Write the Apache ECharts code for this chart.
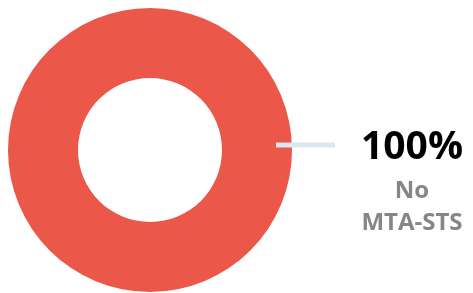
<!DOCTYPE html>
<html>
<head>
<meta charset="utf-8">
<script src="https://cdn.jsdelivr.net/npm/echarts@6/dist/echarts.min.js"></script>
<style>
  html, body { margin: 0; padding: 0; background: #fff; }
  #chart { width: 473px; height: 293px; }
</style>
</head>
<body>
<div id="chart"></div>
<script>
// data
const categories = ['No MTA-STS'];
const values = [100];
const labelLines = ['No', 'MTA-STS'];

const chart = echarts.init(document.getElementById('chart'));

const pieData = categories.map((c, i) => ({ name: c, value: values[i] }));

chart.setOption({
    animation: false,
    series: [
        {
            // the ring itself
            type: 'pie',
            z: 1,
            center: [150, 150],
            radius: [72, 142],
            startAngle: 180,
            silent: true,
            label: { show: false },
            labelLine: { show: false },
            itemStyle: { color: '#EB5749', borderWidth: 0 },
            data: pieData
        },
        {
            // invisible pie that only carries the label + leader line
            type: 'pie',
            z: 5,
            center: [150, 145],
            radius: [0, 126],
            startAngle: 180,
            silent: true,
            avoidLabelOverlap: false,
            itemStyle: { color: 'rgba(255,255,255,0)', borderWidth: 0 },
            labelLine: {
                show: true,
                length: 1,
                length2: 58,
                lineStyle: { color: '#DCE6F0', width: 5 }
            },
            label: {
                show: true,
                position: 'outside',
                overflow: 'none',
                distanceToLabelLine: 5,
                padding: [69, 0, 0, 18],
                formatter: p => '{pct|' + p.percent.toFixed(0) + '%}\n' +
                    labelLines.map(t => '{name|' + t + '}').join('\n'),
                rich: {
                    pct: {
                        fontFamily: 'Open Sans', fontWeight: 'bold', fontSize: 39,
                        color: '#000', width: 108, align: 'center', lineHeight: 55
                    },
                    name: {
                        fontFamily: 'Open Sans', fontWeight: 'bold', fontSize: 24,
                        color: '#868686', width: 108, align: 'center', lineHeight: 32
                    }
                }
            },
            data: pieData
        }
    ]
});
</script>
</body>
</html>
